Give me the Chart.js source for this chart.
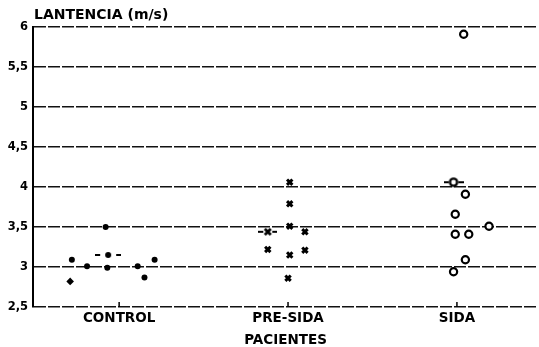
<!DOCTYPE html>
<html>
<head>
<meta charset="utf-8">
<script src="https://cdn.jsdelivr.net/npm/chart.js@4.4.1/dist/chart.umd.min.js"></script>
<style>
  html, body { margin: 0; padding: 0; background: #fff; }
</style>
</head>
<body>
<canvas id="chart" width="539" height="347"></canvas>
<script>
const categories = ['CONTROL', 'PRE-SIDA', 'SIDA'];
const yTicks = [2.5, 3, 3.5, 4, 4.5, 5, 5.5, 6];

// CONTROL: x is category index + jitter
const controlX = [-0.28, -0.19, -0.07, -0.08, 0.11, 0.15, 0.21];
const controlY = [3.09, 3.01, 2.99, 3.5, 3.01, 2.87, 3.09];
const controlOddX = [-0.29];
const controlOddY = [2.82];
const controlMean = [-0.065, 3.15];

// PRE-SIDA
const preX = [1.01, 1.01, 1.01, 1.10, 0.88, 1.10, 1.01, 1.0];
const preY = [4.06, 3.79, 3.51, 3.44, 3.22, 3.21, 3.15, 2.86];
const preMean = [0.88, 3.44];

// SIDA
const sidaX = [2.04, 2.05, 1.99, 2.19, 1.99, 2.07, 2.05, 1.98];
const sidaY = [5.91, 3.91, 3.66, 3.51, 3.41, 3.41, 3.09, 2.94];
const sidaMean = [1.98, 4.06];

const font = "'DejaVu Sans', 'Liberation Sans', sans-serif";

function pts(xs, ys) {
  return xs.map((x, i) => ({ x: x, y: ys[i] }));
}

// "-•-", "-x-", "-o-" mean markers
function meanMarker(kind, w) {
  const c = document.createElement('canvas');
  c.width = w; c.height = 12;
  const g = c.getContext('2d');
  g.strokeStyle = '#000';
  g.fillStyle = '#000';
  g.lineWidth = 2;
  g.beginPath();
  g.moveTo(0, 6); g.lineTo(5, 6);
  g.moveTo(w - 5, 6); g.lineTo(w, 6);
  g.stroke();
  const cx = w / 2;
  if (kind === 'dot') {
    g.beginPath(); g.arc(cx, 6, 3, 0, Math.PI * 2); g.fill();
  } else if (kind === 'x') {
    g.lineWidth = 2.8;
    g.beginPath();
    g.moveTo(cx - 3, 3); g.lineTo(cx + 3, 9);
    g.moveTo(cx + 3, 3); g.lineTo(cx - 3, 9);
    g.stroke();
  } else {
    g.lineWidth = 2.4;
    g.beginPath(); g.arc(cx, 6, 3.6, 0, Math.PI * 2); g.stroke();
  }
  return c;
}

// stretch the plot to the right edge (label padding otherwise eats ~7px)
const fitRight = {
  id: 'fitRight',
  afterLayout(chart) {
    const a = chart.chartArea;
    const right = chart.width - 1;
    a.right = right;
    a.width = right - a.left;
    const xs = chart.scales.x;
    xs.right = right;
    xs.width = right - xs.left;
    xs.configure();
  }
};

const titlePlugin = {
  id: 'topTitle',
  afterDraw(chart) {
    const ctx = chart.ctx;
    ctx.save();
    ctx.font = 'bold 14px ' + font;
    ctx.fillStyle = '#000';
    ctx.textBaseline = 'middle';
    ctx.fillText('LANTENCIA (m/s)', chart.chartArea.left + 1, 15);
    ctx.restore();
  }
};

const innerTicks = {
  id: 'innerTicks',
  afterDraw(chart) {
    const ctx = chart.ctx;
    const xs = chart.scales.x;
    const b = chart.chartArea.bottom;
    ctx.save();
    ctx.strokeStyle = '#000';
    ctx.lineWidth = 1.5;
    [0, 1, 2].forEach(v => {
      const px = xs.getPixelForValue(v);
      ctx.beginPath();
      ctx.moveTo(px, b);
      ctx.lineTo(px, b - 5);
      ctx.stroke();
    });
    ctx.restore();
  }
};

const ctx = document.getElementById('chart').getContext('2d');
new Chart(ctx, {
  type: 'scatter',
  data: {
    datasets: [
      { data: pts(controlX, controlY), pointStyle: 'circle', pointRadius: 3,
        backgroundColor: '#000', borderWidth: 0 },
      { data: pts(controlOddX, controlOddY), pointStyle: 'rectRot', pointRadius: 3.8,
        backgroundColor: '#000', borderWidth: 0 },
      { data: [{ x: controlMean[0], y: controlMean[1] }], pointStyle: meanMarker('dot', 26), pointRadius: 6 },
      { data: pts(preX, preY), pointStyle: 'crossRot', pointRadius: 3.8,
        borderColor: '#000', borderWidth: 3 },
      { data: [{ x: preMean[0], y: preMean[1] }], pointStyle: meanMarker('x', 19), pointRadius: 6 },
      { data: pts(sidaX, sidaY), pointStyle: 'circle', pointRadius: 3.6,
        backgroundColor: '#fff', borderColor: '#000', borderWidth: 2.2 },
      { data: [{ x: sidaMean[0], y: sidaMean[1] }], pointStyle: meanMarker('o', 20), pointRadius: 6 }
    ]
  },
  options: {
    responsive: false,
    animation: false,
    layout: { padding: { top: 27, right: 1, left: 0, bottom: 0 } },
    plugins: { legend: { display: false }, tooltip: { enabled: false } },
    scales: {
      x: {
        type: 'linear',
        min: -0.51,
        max: 2.48,
        afterBuildTicks: s => { s.ticks = [0, 1, 2].map(v => ({ value: v })); },
        afterFit: s => { s.height = 40; },
        ticks: {
          callback: v => categories[v],
          color: '#000',
          font: { family: font, size: 13.5, weight: 'bold' },
          padding: 3,
          autoSkip: false,
          maxRotation: 0
        },
        grid: { display: false, drawTicks: false },
        border: { display: false },
        title: {
          display: true,
          text: 'PACIENTES',
          color: '#000',
          font: { family: font, size: 13.5, weight: 'bold' },
          padding: { top: 0, bottom: -2 }
        }
      },
      y: {
        min: 2.5,
        max: 6,
        afterBuildTicks: s => { s.ticks = yTicks.map(v => ({ value: v })); },
        afterFit: s => { s.width = 33; },
        ticks: {
          callback: v => String(v).replace('.', ','),
          color: '#000',
          font: { family: font, size: 11.5, weight: 'bold' },
          padding: 5
        },
        grid: { color: '#111', lineWidth: 1.5, drawTicks: false },
        border: { display: true, color: '#000', width: 2, dash: [12, 2] }
      }
    }
  },
  plugins: [fitRight, titlePlugin, innerTicks]
});
</script>
</body>
</html>
